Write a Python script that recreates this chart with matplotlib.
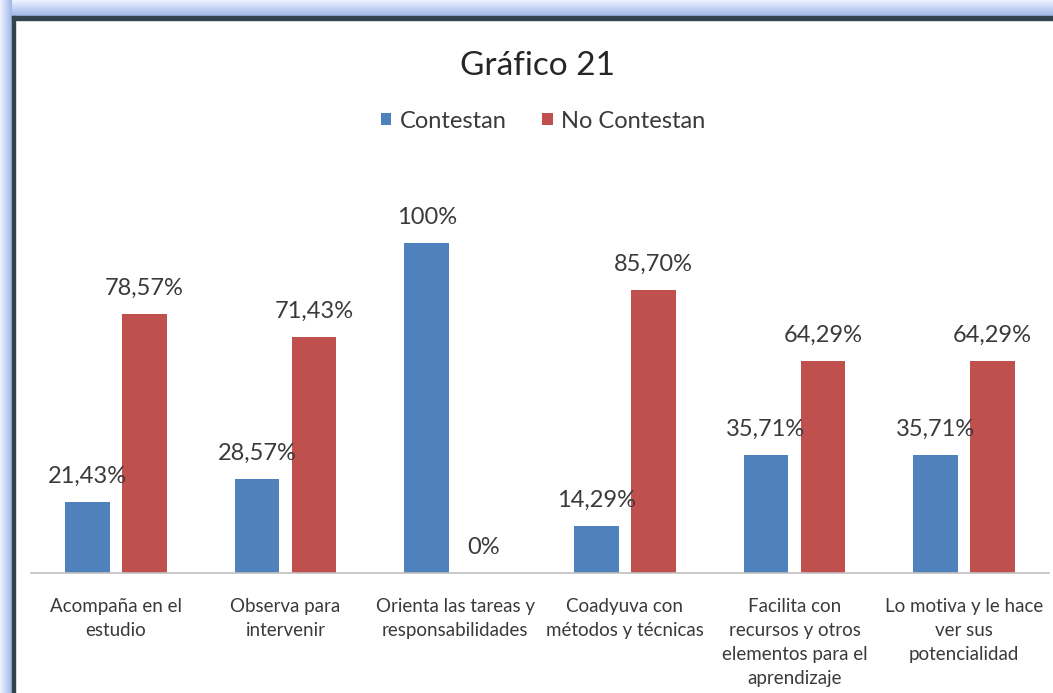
import matplotlib
matplotlib.use("Agg")
import matplotlib.pyplot as plt
import numpy as np
from matplotlib.patches import Rectangle

plt.rcParams['font.family'] = ['Lato', 'DejaVu Sans']

title = "Gráfico 21"
series_names = ["Contestan", "No Contestan"]
categories = [
    "Acompaña en el\nestudio",
    "Observa para\nintervenir",
    "Orienta las tareas y\nresponsabilidades",
    "Coadyuva con\nmétodos y técnicas",
    "Facilita con\nrecursos y otros\nelementos para el\naprendizaje",
    "Lo motiva y le hace\nver sus\npotencialidad",
]
contestan = [21.43, 28.57, 100, 14.29, 35.71, 35.71]
no_contestan = [78.57, 71.43, 0, 85.70, 64.29, 64.29]
contestan_labels = ["21,43%", "28,57%", "100%", "14,29%", "35,71%", "35,71%"]
no_contestan_labels = ["78,57%", "71,43%", "0%", "85,70%", "64,29%", "64,29%"]

BLUE = "#4F81BD"
RED = "#C0504D"
TXT = "#3a3a3a"

W, H = 1053, 693
fig = plt.figure(figsize=(W / 100, H / 100), dpi=100)
fig.patch.set_facecolor("white")

# decorative frame (light blue glow + dark line on top and left)
deco = fig.add_axes([0, 0, 1, 1], zorder=-5)
deco.set_xlim(0, W)
deco.set_ylim(H, 0)
deco.axis("off")
glow = np.linspace(0, 1, 50)
cmap = matplotlib.colors.LinearSegmentedColormap.from_list("g", ["#eef3ff", "#9fb6e8"])
deco.imshow(glow[:, None], extent=(0, W, 16, 0), cmap=cmap, aspect="auto", zorder=1)
deco.imshow(glow[None, :], extent=(0, 12, H, 0), cmap=cmap, aspect="auto", zorder=1)
deco.add_patch(Rectangle((12, 16), W, 4, color="#34444f", zorder=2))
deco.add_patch(Rectangle((12, 16), 3, H, color="#34444f", zorder=2))

# main axes
left_px, right_px, base_px = 31, 1049, 573
ymax = 120
px_per_unit = 3.3
ax_h_px = ymax * px_per_unit
ax = fig.add_axes([left_px / W, (H - base_px) / H, (right_px - left_px) / W, ax_h_px / H])
ax.set_facecolor("none")
x = np.arange(len(categories))
off, bw = 0.168, 0.265
b1 = ax.bar(x - off, contestan, width=bw, color=BLUE, label=series_names[0], zorder=2)
b2 = ax.bar(x + off, no_contestan, width=bw, color=RED, label=series_names[1], zorder=2)
ax.set_xlim(-0.5, len(categories) - 0.5)
ax.set_ylim(0, ymax)
for s in ["top", "left", "right"]:
    ax.spines[s].set_visible(False)
ax.spines["bottom"].set_color("#bfbfbf")
ax.spines["bottom"].set_linewidth(1.2)
ax.set_yticks([])
ax.set_xticks([])

for bars, labs in ((b1, contestan_labels), (b2, no_contestan_labels)):
    for r, lab in zip(bars, labs):
        ax.annotate(lab, (r.get_x() + r.get_width() / 2, r.get_height()),
                    xytext=(0, 18.5), textcoords="offset points", ha="center", va="center",
                    fontsize=17, color=TXT)

for i, c in enumerate(categories):
    ax.text(i, -25 / px_per_unit, c, ha="center", va="top", fontsize=13.5,
            color=TXT, linespacing=1.5)

fig.text(537 / W, 1 - 66 / H, title, ha="center", va="center", fontsize=24, color="#262626")
leg = fig.legend(handles=[b1, b2], labels=series_names, loc="center",
                 bbox_to_anchor=(543 / W, 1 - 121 / H), ncol=2, frameon=False,
                 fontsize=17, handlelength=0.45, handleheight=0.45, handletextpad=0.35,
                 columnspacing=1.5)
for t in leg.get_texts():
    t.set_color(TXT)

fig.savefig("out.png", dpi=100, facecolor="white")
